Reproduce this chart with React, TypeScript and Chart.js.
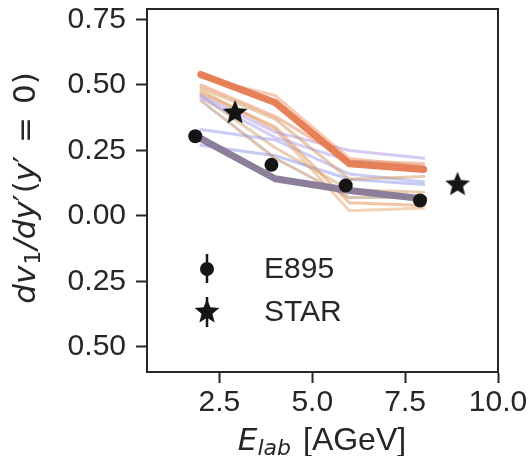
import React, { useEffect, useRef } from "react";
import { Chart, registerables } from "chart.js";

Chart.register(...registerables);

// ---------------- data ----------------
const modelEnergies = [2, 4, 6, 8];

const thickOrange = [0.54, 0.433, 0.199, 0.177];
const thickPurple = [0.295, 0.142, 0.097, 0.065];

const thinLightOrange = [0.53, 0.46, 0.22, 0.19];
const thinOrangeA = [0.5, 0.38, 0.21, 0.2];
const thinTanA = [0.49, 0.37, 0.14, 0.15];
const thinLavenderA = [0.46, 0.32, 0.25, 0.22];
const thinLavenderB = [0.45, 0.3, 0.21, 0.19];
const thinBrown = [0.44, 0.22, 0.07, 0.07];
const thinOrangeB = [0.47, 0.34, 0.05, 0.04];
const thinTanB = [0.48, 0.33, 0.02, 0.03];
const thinBlueA = [0.33, 0.29, 0.16, 0.13];
const thinBlueB = [0.27, 0.23, 0.14, 0.12];
const thinTanC = [0.46, 0.26, 0.1, 0.09];

const e895Energies = [1.85, 3.9, 5.9, 7.9];
const e895Values = [0.304, 0.195, 0.116, 0.059];

const starEnergies = [2.92, 8.91];
const starValues = [0.397, 0.123];

const xTicks = [2.5, 5.0, 7.5, 10.0];
const yTicks = [-0.5, -0.25, 0, 0.25, 0.5, 0.75];

// --------------------------------------
const INK = "#262626";
const FONT = "'Liberation Sans', Arial, Helvetica, sans-serif";
const MATH = "'DejaVu Sans', sans-serif";

function makeStar(size: number): HTMLCanvasElement {
  const c = document.createElement("canvas");
  c.width = size;
  c.height = size;
  const ctx = c.getContext("2d")!;
  const cx = size / 2;
  const cy = size / 2 + 1;
  const ro = size / 2 - 1;
  const ri = ro * 0.44;
  ctx.beginPath();
  for (let i = 0; i < 10; i++) {
    const r = i % 2 === 0 ? ro : ri;
    const a = -Math.PI / 2 + (i * Math.PI) / 5;
    const x = cx + r * Math.cos(a);
    const y = cy + r * Math.sin(a);
    if (i === 0) ctx.moveTo(x, y);
    else ctx.lineTo(x, y);
  }
  ctx.closePath();
  ctx.fillStyle = "#151515";
  ctx.fill();
  return c;
}

type Seg = { t: string; font: string; dy: number; gap?: number };

function drawFlow(ctx: CanvasRenderingContext2D, segs: Seg[], center: number, baseline: number) {
  let total = 0;
  for (const s of segs) {
    ctx.font = s.font;
    total += ctx.measureText(s.t).width + (s.gap || 0);
  }
  let x = center - total / 2;
  ctx.textAlign = "left";
  ctx.textBaseline = "alphabetic";
  for (const s of segs) {
    ctx.font = s.font;
    ctx.fillText(s.t, x, baseline + s.dy);
    x += ctx.measureText(s.t).width + (s.gap || 0);
  }
}

export default function App() {
  const ref = useRef<HTMLCanvasElement | null>(null);

  useEffect(() => {
    if (!ref.current) return;
    const star = makeStar(28);
    const legendStar = makeStar(28);

    const thin = (data: number[], color: string) => ({
      type: "line" as const,
      data: modelEnergies.map((x, i) => ({ x, y: data[i] })),
      borderColor: color,
      borderWidth: 3,
      pointRadius: 0,
      borderCapStyle: "round" as const,
      borderJoinStyle: "round" as const,
      order: 3,
    });

    const mit = (n: number) => `oblique ${n}px ${MATH}`;
    const mup = (n: number) => `${n}px ${MATH}`;
    const up = (n: number) => `${n}px ${FONT}`;

    const deco = {
      id: "deco",
      afterDraw(chart: any) {
        const ctx = chart.ctx as CanvasRenderingContext2D;
        const a = chart.chartArea;
        ctx.save();
        // frame
        ctx.strokeStyle = INK;
        ctx.lineWidth = 2;
        ctx.strokeRect(a.left, a.top, a.right - a.left, a.bottom - a.top);
        ctx.fillStyle = INK;
        // x title
        drawFlow(
          ctx,
          [
            { t: "E", font: mit(31), dy: 0 },
            { t: "lab", font: mit(22), dy: 5, gap: 12 },
            { t: "[AGeV]", font: up(32), dy: 0 },
          ],
          322,
          450
        );
        // y title
        ctx.save();
        ctx.translate(35, 188);
        ctx.rotate(-Math.PI / 2);
        drawFlow(
          ctx,
          [
            { t: "dv", font: mit(31), dy: 0, gap: 1 },
            { t: "1", font: mup(22), dy: 5, gap: 1 },
            { t: "/dy", font: mit(31), dy: 0 },
            { t: "\u2032", font: mup(31), dy: 0, gap: 1 },
            { t: "(", font: mup(31), dy: 0 },
            { t: "y", font: mit(31), dy: 0 },
            { t: "\u2032", font: mup(31), dy: 0, gap: 3 },
            { t: " = ", font: mup(31), dy: 0, gap: 3 },
            { t: "0)", font: mup(31), dy: 0 },
          ],
          0,
          0
        );
        ctx.restore();
        // legend
        const mx = 207;
        ctx.strokeStyle = "#151515";
        ctx.lineWidth = 2.5;
        ctx.beginPath();
        ctx.moveTo(mx, 254);
        ctx.lineTo(mx, 283);
        ctx.stroke();
        ctx.fillStyle = "#151515";
        ctx.beginPath();
        ctx.arc(mx, 269, 7, 0, Math.PI * 2);
        ctx.fill();
        ctx.beginPath();
        ctx.moveTo(mx, 297);
        ctx.lineTo(mx, 327);
        ctx.stroke();
        ctx.drawImage(legendStar, mx - 14, 312 - 15);
        ctx.fillStyle = INK;
        ctx.font = up(30);
        ctx.textAlign = "left";
        ctx.textBaseline = "middle";
        ctx.fillText("E895", 264, 270);
        ctx.fillText("STAR", 264, 313);
        ctx.restore();
      },
    };

    const chart = new Chart(ref.current, {
      type: "line",
      data: {
        datasets: [
          {
            type: "scatter",
            data: e895Energies.map((x, i) => ({ x, y: e895Values[i] })),
            pointRadius: 7,
            pointBackgroundColor: "#151515",
            pointBorderWidth: 0,
            showLine: false,
            order: 0,
          },
          {
            type: "scatter",
            data: starEnergies.map((x, i) => ({ x, y: starValues[i] })),
            pointStyle: star as any,
            showLine: false,
            order: 0,
          },
          {
            type: "line",
            data: modelEnergies.map((x, i) => ({ x, y: thickOrange[i] })),
            borderColor: "rgba(230,122,80,0.95)",
            borderWidth: 7,
            pointRadius: 0,
            borderCapStyle: "round",
            borderJoinStyle: "round",
            order: 1,
          },
          {
            type: "line",
            data: modelEnergies.map((x, i) => ({ x, y: thickPurple[i] })),
            borderColor: "rgba(135,120,150,0.95)",
            borderWidth: 7,
            pointRadius: 0,
            borderCapStyle: "round",
            borderJoinStyle: "round",
            order: 1,
          },
          thin(thinLightOrange, "rgba(240,150,105,0.5)"),
          thin(thinOrangeA, "rgba(232,140,90,0.5)"),
          thin(thinTanA, "rgba(215,160,110,0.55)"),
          thin(thinLavenderA, "rgba(175,150,235,0.5)"),
          thin(thinLavenderB, "rgba(170,155,235,0.5)"),
          thin(thinBrown, "rgba(185,145,115,0.55)"),
          thin(thinOrangeB, "rgba(230,150,90,0.55)"),
          thin(thinTanB, "rgba(230,175,120,0.55)"),
          thin(thinBlueA, "rgba(150,155,235,0.5)"),
          thin(thinBlueB, "rgba(140,150,235,0.5)"),
          thin(thinTanC, "rgba(215,165,115,0.55)"),
        ] as any,
      },
      options: {
        responsive: false,
        animation: false,
        layout: { padding: { top: 9, right: 31, bottom: 0, left: 0 } },
        plugins: { legend: { display: false }, tooltip: { enabled: false } },
        scales: {
          x: {
            type: "linear",
            min: 0.55,
            max: 10.0,
            afterBuildTicks: (s: any) => {
              s.ticks = xTicks.map((v) => ({ value: v }));
            },
            afterFit: (s: any) => {
              s.height = 84;
              s.paddingLeft = 0;
              s.paddingRight = 0;
            },
            grid: {
              drawOnChartArea: false,
              tickLength: 11,
              tickWidth: 2,
              tickColor: INK,
            },
            border: { color: INK, width: 2 },
            ticks: {
              color: INK,
              font: { family: FONT, size: 30 },
              padding: 2,
              maxRotation: 0,
              callback: (v: any) => Number(v).toFixed(1),
            },
          },
          y: {
            type: "linear",
            min: -0.596,
            max: 0.79,
            afterBuildTicks: (s: any) => {
              s.ticks = yTicks.map((v) => ({ value: v }));
            },
            afterFit: (s: any) => {
              s.width = 147;
              s.paddingTop = 0;
              s.paddingBottom = 0;
            },
            grid: {
              drawOnChartArea: false,
              tickLength: 11,
              tickWidth: 2,
              tickColor: INK,
            },
            border: { color: INK, width: 2 },
            ticks: {
              color: INK,
              font: { family: FONT, size: 30 },
              padding: 10,
              callback: (v: any) => Math.abs(Number(v)).toFixed(2),
            },
          },
        },
      },
      plugins: [deco],
    });
    return () => chart.destroy();
  }, []);

  return (
    <div style={{ position: "absolute", left: 0, top: 0, width: 529, height: 456, background: "#fff" }}>
      <canvas ref={ref} width={529} height={456} />
    </div>
  );
}
